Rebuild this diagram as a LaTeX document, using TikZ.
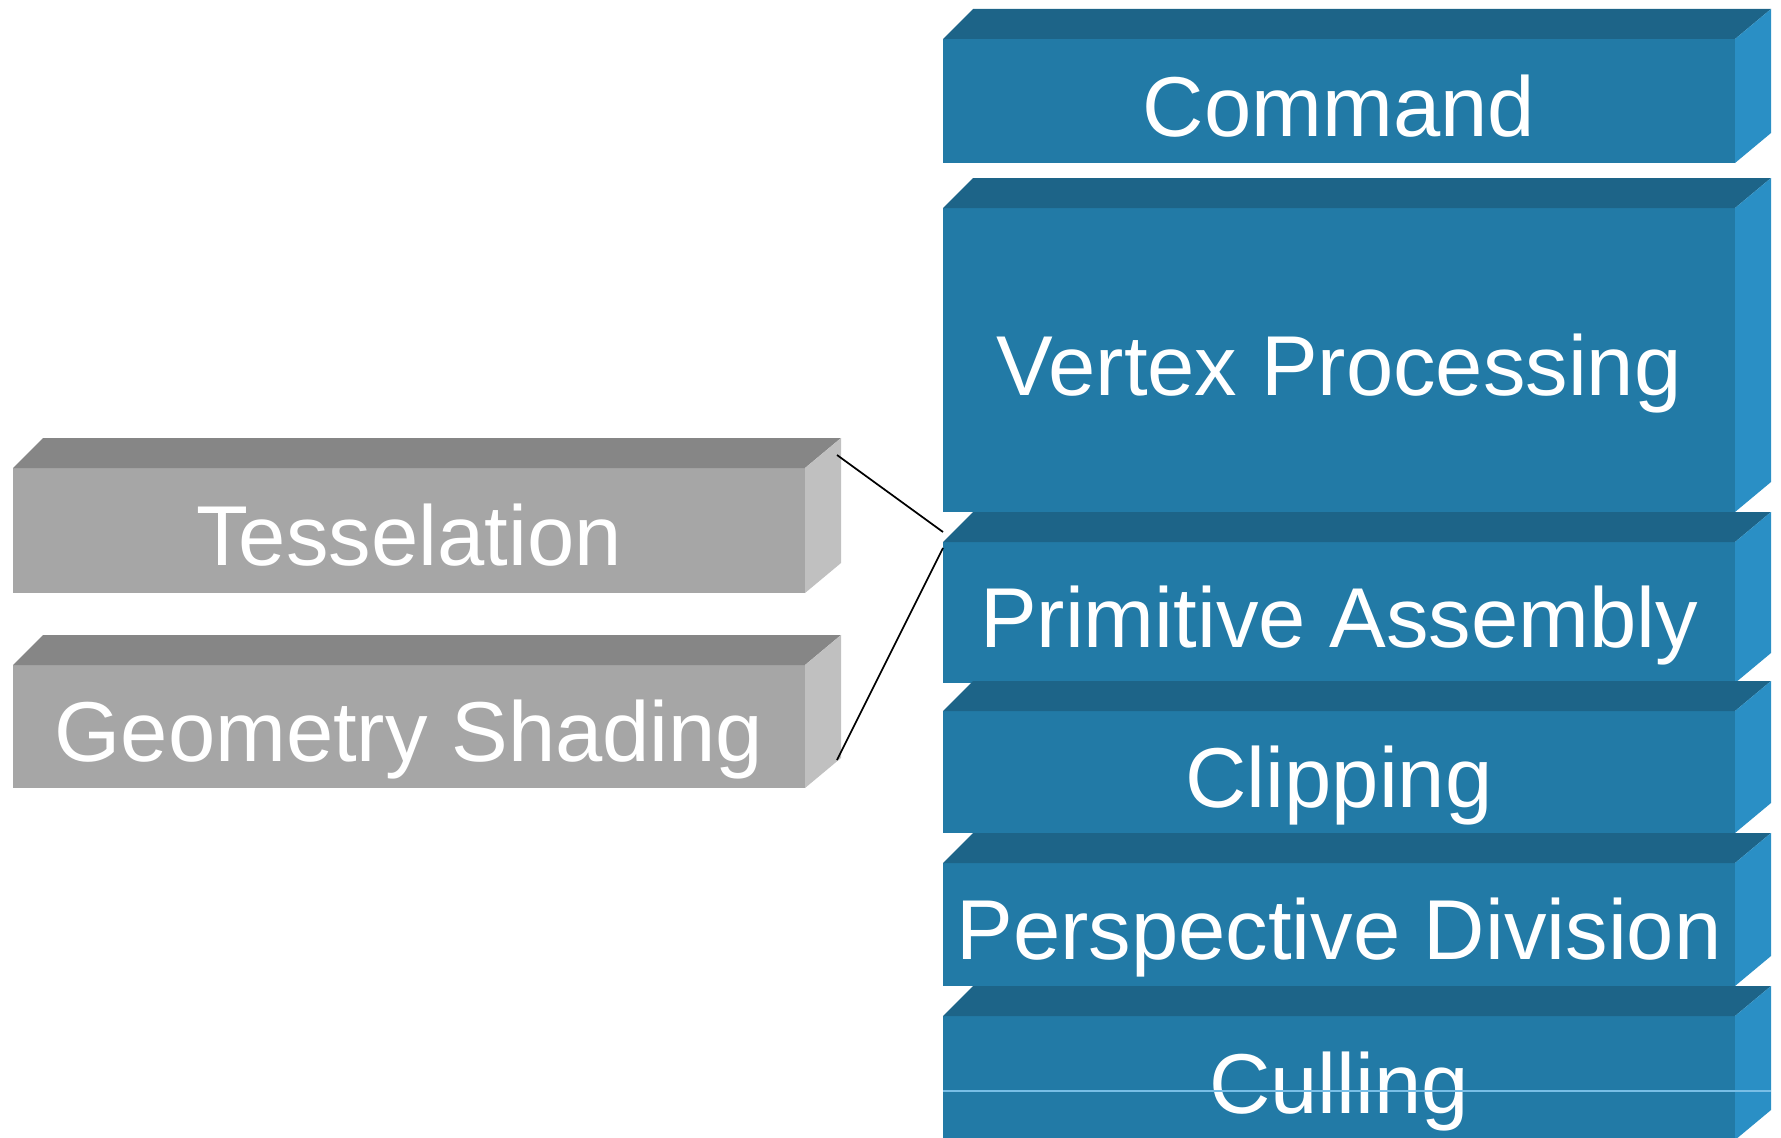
\documentclass[tikz,border=0pt]{standalone}
\usepackage{fontspec}
\setmainfont{Liberation Sans}
\usetikzlibrary{calc}

% colours of the blue pipeline blocks
\definecolor{bluefront}{HTML}{227AA6}
\definecolor{bluetop}{HTML}{1D6488}
\definecolor{blueside}{HTML}{2A8FC5}
\definecolor{cullline}{HTML}{78BEE6}
% colours of the grey optional blocks
\definecolor{greyfront}{HTML}{A6A6A6}
\definecolor{greytop}{HTML}{868686}
\definecolor{greyside}{HTML}{C0C0C0}

% top and right faces of a block, hung on the front node
\newcommand\blockfaces[3]{%
  \fill[#2] (#1.north west) -- ++(30,-30) -- ($(#1.north east)+(36,-30)$) -- (#1.north east) -- cycle;
  \fill[#3] (#1.north east) -- ++(36,-30) -- ($(#1.south east)+(36,-30)$) -- (#1.south east) -- cycle;
}

\begin{document}
\begin{tikzpicture}[
  x=0.75pt, y=-0.75pt,
  frontface/.style={inner sep=0pt, outer sep=0pt, anchor=north west,
    minimum width=594pt, text=white,
    font=\fontsize{63.75pt}{70pt}\selectfont,
    text height=53pt, text depth=0pt},
  bluebox/.style={frontface, fill=bluefront},
  greybox/.style={frontface, fill=greyfront},
  link/.style={draw=black, line width=1.3pt}
]
\useasboundingbox (0,0) rectangle (1781,1138);

% pipeline stages
\node[bluebox, minimum height=93pt]    (cmd)  at (943,39)   {Command};
\node[bluebox, minimum height=228pt]   (vtx)  at (943,208)  {Vertex Processing};
\node[bluebox, minimum height=105.75pt] (prim) at (943,542) {Primitive Assembly};
\node[bluebox, minimum height=91.5pt]  (clip) at (943,711)  {Clipping};
\node[bluebox, minimum height=92.25pt] (persp) at (943,863) {Perspective Division};
\node[bluebox, minimum height=93pt]    (cull) at (943,1016) {Culling};

\blockfaces{cmd}{bluetop}{blueside}
\blockfaces{vtx}{bluetop}{blueside}
\blockfaces{prim}{bluetop}{blueside}
\blockfaces{clip}{bluetop}{blueside}
\blockfaces{persp}{bluetop}{blueside}
\blockfaces{cull}{bluetop}{blueside}

% thin rule across the last stage
\draw[cullline, line width=1.1pt] ($(cull.north west)+(0,75)$) -- ($(cull.north east)+(36,75)$);

% optional stages
\node[greybox, minimum height=93.75pt] (tess) at (13,468) {Tesselation};
\node[greybox, minimum height=92.25pt] (geo)  at (13,665) {Geometry Shading};

\blockfaces{tess}{greytop}{greyside}
\blockfaces{geo}{greytop}{greyside}

% links into the pipeline
\coordinate (inA) at ($(prim.north west)+(0,-10)$);
\coordinate (inB) at ($(prim.north west)+(0,6)$);
\coordinate (tessOut) at ($(tess.north east)+(32,-13)$);
\coordinate (geoOut)  at ($(geo.south east)+(32,-28)$);
\draw[link] (tessOut) -- (inA);
\draw[link] (inB) -- (geoOut);
\end{tikzpicture}
\end{document}
